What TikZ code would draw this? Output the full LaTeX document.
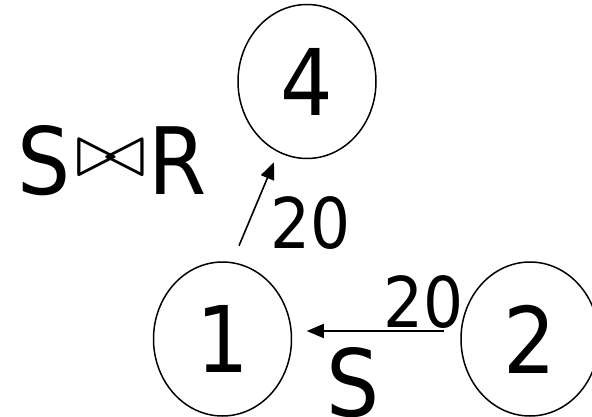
\documentclass[tikz,border=0pt]{standalone}
\usepackage{fontspec}
\usepackage{graphicx}
\setmainfont{DejaVu Sans Condensed}
\usetikzlibrary{shapes.geometric,arrows.meta,positioning}

\begin{document}
\begin{tikzpicture}[
    x=1pt, y=-1pt,
    station/.style={
        draw=black,
        line width=1.5pt,
        ellipse,
        inner sep=0pt,
        minimum width=138pt,
        minimum height=154pt,
        font=\fontsize{92}{92}\selectfont
    },
    cost/.style={
        inner sep=0pt,
        font=\fontsize{70}{70}\selectfont
    },
    rel/.style={
        inner sep=0pt,
        font=\fontsize{93}{93}\selectfont
    },
    flow/.style={
        -{Triangle[length=17pt,width=14pt]},
        line width=1.6pt
    }
]

\useasboundingbox (0,0) rectangle (592,417);

% ==========================================================
% SITES
% ==========================================================

\node[station] (n1) at (222.5,339) {1};

\node[
    station,
    right=168pt of n1
] (n2) {2};

\node[
    station,
    above=102pt of n1,
    xshift=84.5pt
] (n4) {4};

% ==========================================================
% LABELS
% ==========================================================

\node[rel] (join) at (112,161)
{S\hspace{5pt}\raisebox{18pt}{\resizebox*{71pt}{36pt}{$\bowtie$}}\hspace{2pt}R};

\node[cost] (up) at (310.5,223) {20};

\node[cost] (low) at (423.5,302) {20};

\node[rel, anchor=north] (ship) at (353.5,347) {S};

% ==========================================================
% TRANSFERS
% ==========================================================

\draw[flow]
([xshift=16.5pt,yshift=15.5pt]n1.north) --
([xshift=-33pt,yshift=-3pt]n4.south);

\draw[flow]
([xshift=-16pt,yshift=8pt]n2.west) --
([xshift=14.5pt,yshift=8pt]n1.east);

\end{tikzpicture}
\end{document}
